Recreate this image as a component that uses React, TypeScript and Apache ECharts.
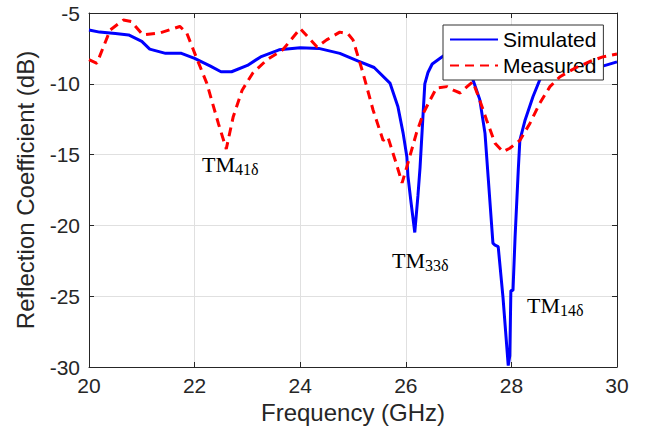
import React, { useEffect, useRef } from "react";
import * as echarts from "echarts";

const simFreq = [
  20.0, 20.2, 20.5, 20.75, 21.0, 21.15, 21.45, 21.75, 22.0, 22.3, 22.5, 22.7, 23.0, 23.25, 23.6,
  24.0, 24.35, 24.75, 25.1, 25.4, 25.7, 25.85, 25.95, 26.02, 26.04, 26.1, 26.17, 26.23, 26.27,
  26.36, 26.42, 26.5, 26.65, 26.8, 27.0, 27.15, 27.27, 27.4, 27.5, 27.56, 27.65, 27.69, 27.75,
  27.84, 27.94, 27.97, 27.99, 28.03, 28.07, 28.13, 28.16, 28.26, 28.41, 28.54, 28.7, 29.0, 29.4,
  29.73, 30.0,
];
const simValues = [
  -6.2, -6.35, -6.45, -6.55, -7.0, -7.55, -7.85, -7.85, -8.2, -8.75, -9.15, -9.15, -8.7, -8.1, -7.6,
  -7.45, -7.5, -7.85, -8.4, -8.85, -9.95, -11.6, -13.5, -15.15, -16.5, -18.4, -20.5, -17.9, -15.9,
  -10.0, -9.2, -8.6, -8.2, -7.8, -7.9, -8.6, -9.7, -11.1, -13.5, -16.6, -21.25, -21.4, -21.5,
  -25.05, -29.9, -29.2, -24.6, -24.6, -20.8, -16.1, -14.0, -12.55, -10.9, -9.7, -8.8, -8.3, -8.4,
  -8.75, -8.45,
];

const measFreq = [
  20.0, 20.15, 20.4, 20.65, 20.8, 21.02, 21.35, 21.72, 21.85, 22.04, 22.23, 22.45, 22.6, 22.73,
  22.9, 23.1, 23.37, 23.67, 24.0, 24.32, 24.5, 24.75, 24.9, 25.0, 25.19, 25.38, 25.57, 25.66, 25.8,
  25.93, 26.04, 26.2, 26.33, 26.46, 26.58, 26.78, 26.9, 27.03, 27.16, 27.27, 27.4, 27.53, 27.69,
  27.84, 27.97, 28.16, 28.35, 28.54, 28.73, 28.92, 29.2, 29.5, 29.73, 30.0,
];
const measValues = [
  -8.3, -8.55, -6.2, -5.5, -5.6, -6.55, -6.4, -5.95, -6.4, -8.2, -9.95, -12.8, -14.6, -12.35,
  -10.45, -9.25, -8.3, -7.6, -6.1, -7.4, -6.9, -6.35, -6.45, -6.9, -9.25, -11.85, -14.0, -13.75, -15.4,
  -17.0, -15.6, -13.5, -12.1, -11.15, -10.3, -10.2, -10.45, -10.65, -10.2, -9.85, -11.15, -12.55, -14.2,
  -14.8, -14.55, -14.0, -12.8, -11.35, -10.2, -9.5, -8.9, -8.4, -8.1, -7.9,
];

const seriesNames = ["Simulated", "Measured"];
const modeLabels = [
  { main: "TM", sub: "41δ", x: 202, y: 172 },
  { main: "TM", sub: "33δ", x: 392, y: 268 },
  { main: "TM", sub: "14δ", x: 527, y: 313 },
];

const SANS = "'Liberation Sans', Arial, Helvetica, sans-serif";
const SERIF = "'Liberation Serif', 'Times New Roman', serif";
const AX = "#262626";

export default function App() {
  const ref = useRef<HTMLDivElement>(null);
  useEffect(() => {
    if (!ref.current) return;
    const chart = echarts.init(ref.current, undefined, { renderer: "svg" });
    const simData = simFreq.map((f, i) => [f, simValues[i]]);
    const measData = measFreq.map((f, i) => [f, measValues[i]]);

    const graphics: any[] = [];
    modeLabels.forEach((m) => {
      graphics.push({
        type: "text",
        x: m.x,
        y: m.y - 7.4,
        z: 100,
        style: { text: m.main, font: `22px ${SERIF}`, fill: "#000", align: "left", verticalAlign: "middle" },
      });
      graphics.push({
        type: "text",
        x: m.x + 33,
        y: m.y + 3 - 5.4,
        z: 100,
        style: { text: m.sub, font: `16px ${SERIF}`, fill: "#000", align: "left", verticalAlign: "middle" },
      });
    });

    const mirrorAxisCommon = {
      axisLabel: { show: false },
      splitLine: { show: false },
      axisLine: { show: true, onZero: false, lineStyle: { color: AX, width: 1 } },
      axisTick: { show: true, inside: true, length: 5, lineStyle: { color: AX } },
    };

    chart.setOption({
      animation: false,
      backgroundColor: "#ffffff",
      grid: { left: 89, right: 29, top: 13, bottom: 73, containLabel: false },
      legend: {
        data: seriesNames,
        orient: "vertical",
        left: 443,
        top: 25,
        itemWidth: 48,
        itemHeight: 14,
        itemGap: 5,
        padding: [4, 7, 4, 6],
        backgroundColor: "#ffffff",
        borderColor: "#333333",
        borderWidth: 1,
        selectedMode: false,
        itemStyle: { opacity: 0 },
        textStyle: { fontFamily: SANS, fontSize: 21, color: "#000", padding: [0, 0, 0, 0] },
      },
      xAxis: [
        {
          type: "value",
          min: 20,
          max: 30,
          interval: 2,
          name: "Frequency (GHz)",
          nameLocation: "middle",
          nameGap: 33,
          nameTextStyle: { fontFamily: SANS, fontSize: 24, color: AX },
          axisLabel: { fontFamily: SANS, fontSize: 21, color: AX, margin: 8 },
          axisLine: { show: true, onZero: false, lineStyle: { color: AX, width: 1 } },
          axisTick: { show: true, inside: true, length: 5, lineStyle: { color: AX } },
          splitLine: { show: true, lineStyle: { color: "#e0e0e0", width: 1 } },
        },
        { type: "value", position: "top", min: 20, max: 30, interval: 2, ...mirrorAxisCommon },
      ],
      yAxis: [
        {
          type: "value",
          min: -30,
          max: -5,
          interval: 5,
          name: "Reflection Coefficient (dB)",
          nameLocation: "middle",
          nameGap: 52,
          nameTextStyle: { fontFamily: SANS, fontSize: 24, color: AX },
          axisLabel: { fontFamily: SANS, fontSize: 21, color: AX, margin: 9 },
          axisLine: { show: true, onZero: false, lineStyle: { color: AX, width: 1 } },
          axisTick: { show: true, inside: true, length: 5, lineStyle: { color: AX } },
          splitLine: { show: true, lineStyle: { color: "#e0e0e0", width: 1 } },
        },
        { type: "value", position: "right", min: -30, max: -5, interval: 5, ...mirrorAxisCommon },
      ],
      series: [
        {
          name: seriesNames[0],
          type: "line",
          data: simData,
          symbol: "none",
          showSymbol: false,
          color: "#0000ff",
          lineStyle: { color: "#0000ff", width: 3 },
          z: 3,
        },
        {
          name: seriesNames[1],
          type: "line",
          data: measData,
          symbol: "none",
          showSymbol: false,
          color: "#ff0000",
          lineStyle: { color: "#ff0000", width: 3, type: [9, 6] },
          z: 4,
        },
      ],
      graphic: graphics,
    });
    return () => chart.dispose();
  }, []);
  return (
    <div
      ref={ref}
      style={{ position: "fixed", left: 0, top: 0, width: 646, height: 440, background: "#fff" }}
    />
  );
}
